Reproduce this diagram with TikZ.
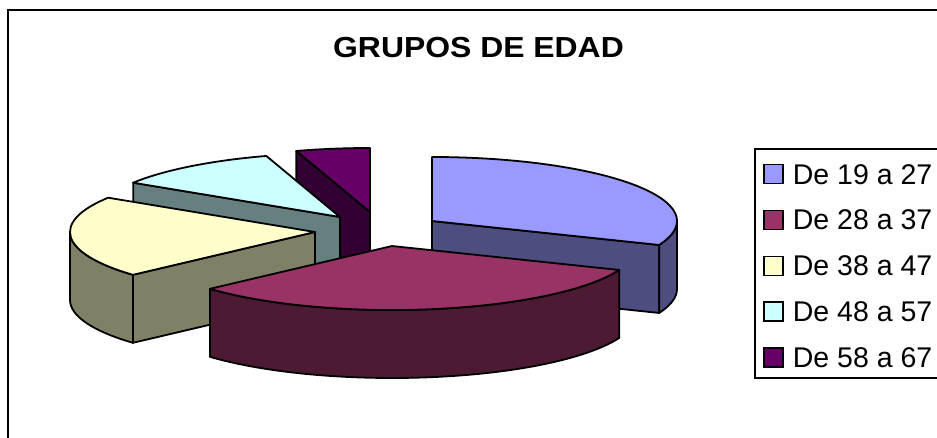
\documentclass[tikz,border=0pt]{standalone}
\usepackage{fontspec}
\setmainfont{Liberation Sans}
\newfontfamily\titulofont[FakeStretch=1.1]{Liberation Sans}
\usetikzlibrary{positioning}
\definecolor{azul}{HTML}{9999FF}
\definecolor{azulos}{HTML}{4D4D80}
\definecolor{vino}{HTML}{993366}
\definecolor{vinoos}{HTML}{4D1A33}
\definecolor{crema}{HTML}{FFFFCC}
\definecolor{cremaos}{HTML}{808066}
\definecolor{celeste}{HTML}{CCFFFF}
\definecolor{celesteos}{HTML}{668080}
\definecolor{morado}{HTML}{660066}
\definecolor{moradoos}{HTML}{330033}
\begin{document}
\begin{tikzpicture}[x=1pt,y=1pt,
	cara/.style={draw=black,line width=1.8pt,line join=round},
	elip/.style={x radius=245,y radius=64},
	cuadro/.style={draw=black,line width=1.4pt,minimum size=19pt,inner sep=0pt},
	texto/.style={font=\fontsize{28.5}{30}\selectfont,inner sep=0pt}]
	\useasboundingbox (0,0) rectangle (937,437);
	\draw[line width=1.8pt] (8,427) rectangle (960,-20);
	\node[font=\titulofont\bfseries\fontsize{29}{31}\selectfont] (titulo) at (478.5,389) {GRUPOS DE EDAD};
	% centros de las porciones
	\coordinate (P) at (370,225);
	\coordinate (C) at (340,220);
	\coordinate (B) at (432,216);
	\coordinate (Y) at (315,205);
	\coordinate (M) at (392,191);
	% De 58 a 67
	\draw[cara,fill=moradoos] (P) -- ++(107.5:245 and 64) -- ++(0,-68)
		-- ++(287.5:245 and 64) -- cycle;
	\draw[cara,fill=morado] (P) -- ++(90:245 and 64)
		arc[start angle=90,end angle=107.5,elip] -- cycle;
	% De 48 a 57
	\draw[cara,fill=celesteos] (C) -- ++(147.6:245 and 64) -- ++(0,-68)
		-- ++(327.6:245 and 64) -- cycle;
	\draw[cara,fill=celeste] (C) -- ++(107.5:245 and 64)
		arc[start angle=107.5,end angle=147.6,elip] -- cycle;
	% De 19 a 27
	\draw[cara,fill=azulos] (B) -- ++(-22:245 and 64) -- ++(0,-68)
		-- ++(158:245 and 64) -- cycle;
	\draw[cara,fill=azulos] (B) ++(0:245 and 64)
		arc[start angle=0,end angle=-22,elip] -- ++(0,-68)
		arc[start angle=-22,end angle=0,elip] -- cycle;
	\draw[cara,fill=azul] (B) -- ++(90:245 and 64)
		arc[start angle=90,end angle=-22,elip] -- cycle;
	% De 38 a 47
	\draw[cara,fill=cremaos] (Y) -- ++(222:245 and 64) -- ++(0,-68)
		-- ++(42:245 and 64) -- cycle;
	\draw[cara,fill=cremaos] (Y) ++(180:245 and 64)
		arc[start angle=180,end angle=222,elip] -- ++(0,-68)
		arc[start angle=222,end angle=180,elip] -- cycle;
	\draw[cara,fill=crema] (Y) -- ++(147.6:245 and 64)
		arc[start angle=147.6,end angle=222,elip] -- cycle;
	% De 28 a 37
	\draw[cara,fill=vinoos] (M) ++(-22:245 and 64)
		arc[start angle=-22,end angle=-138,elip] -- ++(0,-68)
		arc[start angle=-138,end angle=-22,elip] -- cycle;
	\draw[cara,fill=vino] (M) -- ++(-22:245 and 64)
		arc[start angle=-22,end angle=-138,elip] -- cycle;
	% leyenda
	\draw[line width=1.4pt] (755,288) rectangle (960,59);
	\foreach \i/\col/\txt in {1/azul/De 19 a 27, 2/vino/De 28 a 37,
		3/crema/De 38 a 47, 4/celeste/De 48 a 57, 5/morado/De 58 a 67}
	{
		\node[cuadro,fill=\col] (cuadro\i) at (773.5,{262.8-45.8*(\i-1)}) {};
		\node[texto,right=9pt of cuadro\i] (texto\i) {\txt};
	}
\end{tikzpicture}
\end{document}
